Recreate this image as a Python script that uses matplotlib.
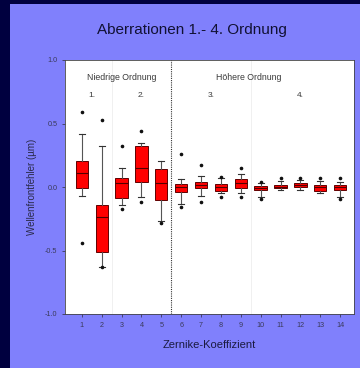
import matplotlib
matplotlib.use("Agg")
import matplotlib.pyplot as plt
from matplotlib.patches import Rectangle

plt.rcParams['font.family'] = ['Liberation Sans', 'DejaVu Sans']

# Zernike coefficient index and box statistics
coef = list(range(1, 15))
whis_lo = [-0.07, -0.63, -0.14, -0.08, -0.27, -0.13, -0.07, -0.05, -0.05, -0.08, -0.02, -0.02, -0.05, -0.08]
q1 = [-0.01, -0.51, -0.085, 0.037, -0.10, -0.04, -0.01, -0.03, -0.01, -0.025, -0.01, 0.0, -0.03, -0.02]
med = [0.108, -0.24, 0.03, 0.147, 0.03, 0.0, 0.015, 0.0, 0.03, -0.01, 0.0, 0.015, 0.0, 0.0]
q3 = [0.205, -0.14, 0.068, 0.32, 0.14, 0.02, 0.037, 0.02, 0.06, 0.007, 0.015, 0.03, 0.015, 0.015]
whis_hi = [0.42, 0.32, 0.152, 0.35, 0.205, 0.063, 0.09, 0.07, 0.10, 0.03, 0.05, 0.055, 0.05, 0.04]
outliers = [[0.59, -0.44], [0.53, -0.63], [0.32, -0.17], [0.44, -0.12], [-0.28],
            [0.257, -0.16], [0.17, -0.12], [0.076, -0.08], [0.15, -0.08], [0.042, -0.095],
            [0.068], [0.068], [0.07], [0.068, -0.095]]

group_labels = ["1.", "2.", "3.", "4."]
group_centers = [1.5, 4.0, 7.5, 12.0]

stats = []
for i in range(len(coef)):
    stats.append(dict(whislo=whis_lo[i], q1=q1[i], med=med[i], q3=q3[i],
                      whishi=whis_hi[i], fliers=outliers[i]))

fig = plt.figure(figsize=(3.6, 3.68), dpi=100)
fig.patch.set_facecolor('#00003f')
fig.patches.append(Rectangle((10 / 360, 0), 1, (368 - 4) / 368, transform=fig.transFigure,
                             facecolor='#8080fc', edgecolor='none', zorder=-5))

ax = fig.add_axes([65 / 360, 1 - 314 / 368, (354 - 65) / 360, (314 - 60) / 368])
ax.set_facecolor('white')

ax.bxp(stats, positions=coef, widths=0.62, patch_artist=True,
       boxprops=dict(facecolor='#ff0000', edgecolor='#600000', linewidth=0.7),
       medianprops=dict(color='#500000', linewidth=0.8),
       whiskerprops=dict(color='#555555', linewidth=0.8),
       capprops=dict(color='#333333', linewidth=0.8),
       capwidths=0.3,
       flierprops=dict(marker='o', markersize=1.6, markerfacecolor='#111111',
                       markeredgecolor='#111111'))

ax.axvline(5.5, color='#333333', linestyle=(0, (1, 1)), linewidth=0.8)
for xs in (2.5, 9.5):
    ax.axvline(xs, color='#eeeeee', linewidth=0.6, zorder=0)

ax.set_xlim(0.15, 14.7)
ax.set_ylim(-1.0, 1.0)
ax.set_xticks(coef)
ax.set_xticklabels([str(c) for c in coef])
ax.set_yticks([-1.0, -0.5, 0.0, 0.5, 1.0])
ax.set_yticklabels(['-1.0', '-0.5', '0.0', '0.5', '1.0'])
ax.tick_params(direction='out', length=2.5, width=0.6, labelsize=5.2,
               colors='#3a3a5a', pad=3)
for s in ax.spines.values():
    s.set_color('#444444')
    s.set_linewidth(0.6)

ax.text(3.0, 0.865, 'Niedrige Ordnung', ha='center', va='center', fontsize=6.3, color='#3a3a3a')
ax.text(9.4, 0.865, 'Höhere Ordnung', ha='center', va='center', fontsize=6.3, color='#3a3a3a')
for lab, xc in zip(group_labels, group_centers):
    ax.text(xc, 0.72, lab, ha='center', va='center', fontsize=6, color='#3a3a3a')

ax.set_ylabel('Wellenfrontfehler (µm)', fontsize=7, color='#2a2a4a', labelpad=6)
ax.set_xlabel('Zernike-Koeffizient', fontsize=8, color='#1a1a40', labelpad=8)

fig.text(192 / 360, 1 - 30 / 368, 'Aberrationen 1.- 4. Ordnung', ha='center', va='center',
         fontsize=11, color='#111133')

fig.savefig('out.png', dpi=100, facecolor=fig.get_facecolor())
